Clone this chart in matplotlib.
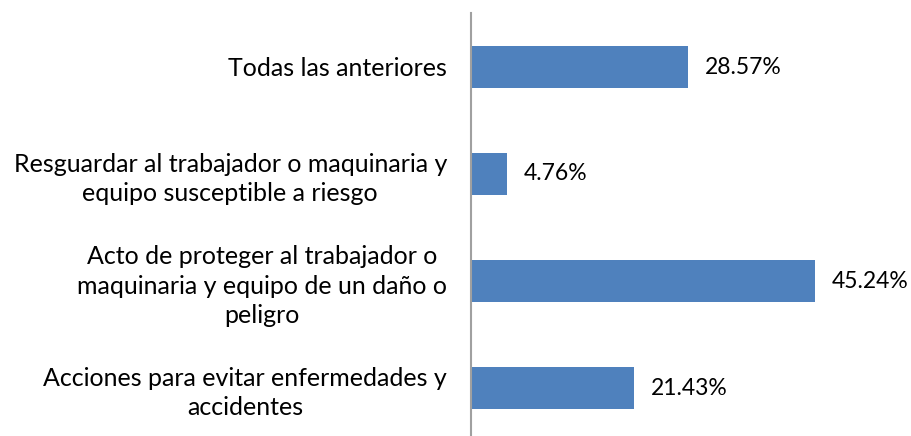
import matplotlib
matplotlib.use("Agg")
import matplotlib.pyplot as plt

plt.rcParams['font.family'] = ['Lato', 'DejaVu Sans']

categories = [
    "Todas las anteriores",
    "Resguardar al trabajador o maquinaria y\nequipo susceptible a riesgo",
    "Acto de proteger al trabajador o\nmaquinaria y equipo de un daño o\npeligro",
    "Acciones para evitar enfermedades y\naccidentes",
]
values = [28.57, 4.76, 45.24, 21.43]
value_labels = ["28.57%", "4.76%", "45.24%", "21.43%"]

W, H = 912, 436
fig = plt.figure(figsize=(W / 100, H / 100), dpi=100)
px_per_unit = 7.6
left_px, right_px = 471, 905
top_px, bottom_px = 13.5, 441.5
ax = fig.add_axes([left_px / W, (H - bottom_px) / H,
                   (right_px - left_px) / W, (bottom_px - top_px) / H])

y = list(range(len(categories)))
ax.barh(y, values, height=0.4, color="#4F81BD")
ax.set_xlim(0, (right_px - left_px) / px_per_unit)
ax.set_ylim(len(categories) - 0.5, -0.5)

for yi, v, lab in zip(y, values, value_labels):
    ax.annotate(lab, (v, yi), xytext=(17 * 0.72, 0), textcoords="offset points",
                ha="left", va="center", fontsize=16.5, color="#000000")

ax.set_yticks(y)
ax.set_yticklabels(categories, fontsize=18, multialignment="center",
                   linespacing=1.32)
ax.tick_params(axis="y", length=0, pad=24 * 0.72)
ax.set_xticks([])
for s in ["top", "right", "bottom"]:
    ax.spines[s].set_visible(False)
ax.spines["left"].set_color("#A0A0A0")
ax.spines["left"].set_linewidth(1.5)

fig.savefig("out.png", dpi=100)
